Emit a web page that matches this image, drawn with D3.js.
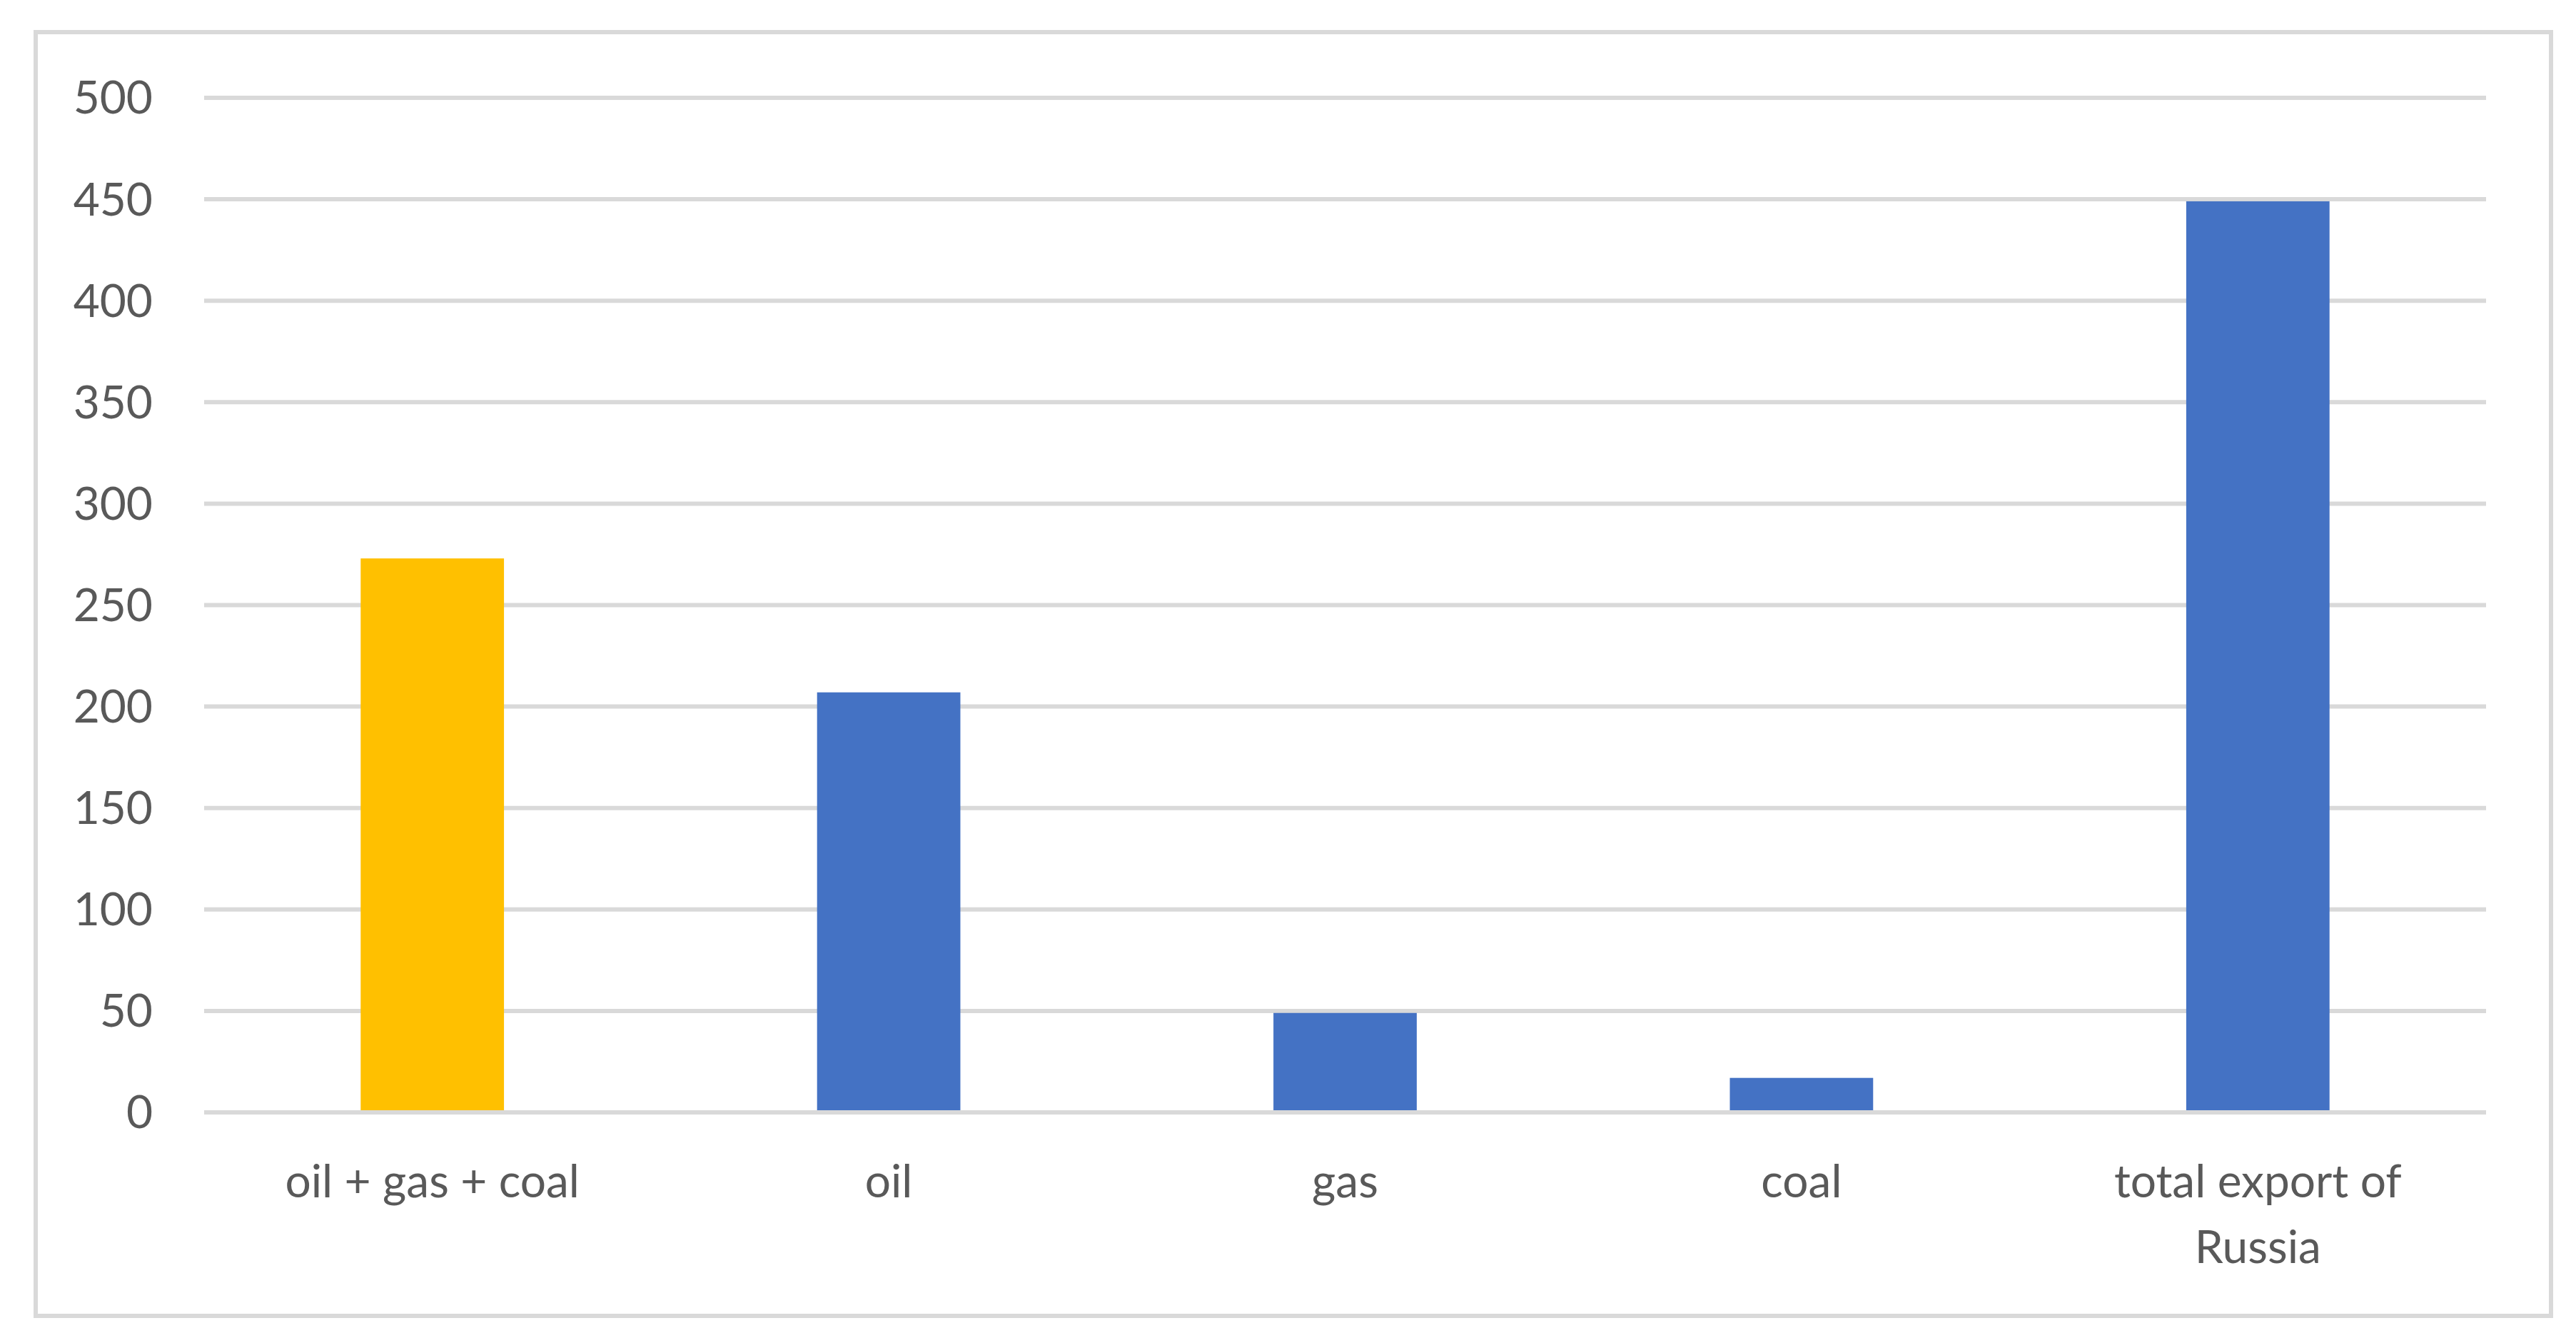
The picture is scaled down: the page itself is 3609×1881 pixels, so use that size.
<!DOCTYPE html>
<html>
<head>
<meta charset="utf-8">
<script src="https://cdn.jsdelivr.net/npm/d3@7"></script>
<style>
  body { margin: 0; background: #fff; }
  text { font-family: Lato, "Open Sans", sans-serif; fill: #595959; }
</style>
</head>
<body>
<svg id="chart"></svg>
<script>
var categories = [["oil + gas + coal"], ["oil"], ["gas"], ["coal"], ["total export of", "Russia"]];
var values = [273, 207, 49, 17, 449];
var colors = ["#ffc000", "#4472c4", "#4472c4", "#4472c4", "#4472c4"];
var yTicks = [0, 50, 100, 150, 200, 250, 300, 350, 400, 450, 500];

var width = 3609, height = 1881;
var plot = {left: 286, right: 3483, top: 137, bottom: 1558};

var svg = d3.select("#chart").attr("width", width).attr("height", height);

svg.append("rect")
    .attr("x", 50).attr("y", 45)
    .attr("width", 3524).attr("height", 1798)
    .attr("fill", "none").attr("stroke", "#d9d9d9").attr("stroke-width", 6);

var x = d3.scaleBand()
    .domain(d3.range(categories.length))
    .range([plot.left, plot.right])
    .paddingInner(0.686).paddingOuter(0.343);

var y = d3.scaleLinear().domain([0, 500]).range([plot.bottom, plot.top]);

// gridlines
svg.append("g").selectAll("line").data(yTicks).join("line")
    .attr("x1", plot.left).attr("x2", plot.right)
    .attr("y1", function(d) { return y(d); }).attr("y2", function(d) { return y(d); })
    .attr("stroke", "#d9d9d9").attr("stroke-width", 6);

// y labels
svg.append("g").selectAll("text").data(yTicks).join("text")
    .attr("x", 214).attr("y", function(d) { return y(d); })
    .attr("dy", "0.35em").attr("text-anchor", "end")
    .attr("font-size", 64)
    .text(function(d) { return d; });

// bars
svg.append("g").selectAll("rect").data(values).join("rect")
    .attr("x", function(d, i) { return x(i); })
    .attr("width", x.bandwidth())
    .attr("y", function(d) { return y(d); })
    .attr("height", function(d) { return y(0) - y(d) - 3; })
    .attr("fill", function(d, i) { return colors[i]; });

// category labels
var labels = svg.append("g").selectAll("text").data(categories).join("text")
    .attr("x", function(d, i) { return x(i) + x.bandwidth() / 2; })
    .attr("y", 1677)
    .attr("text-anchor", "middle")
    .attr("font-size", 64);
labels.selectAll("tspan").data(function(d) { return d; }).join("tspan")
    .attr("x", function() { return this.parentNode.getAttribute("x"); })
    .attr("dy", function(d, i) { return i ? 92 : 0; })
    .text(function(d) { return d; });
</script>
</body>
</html>
